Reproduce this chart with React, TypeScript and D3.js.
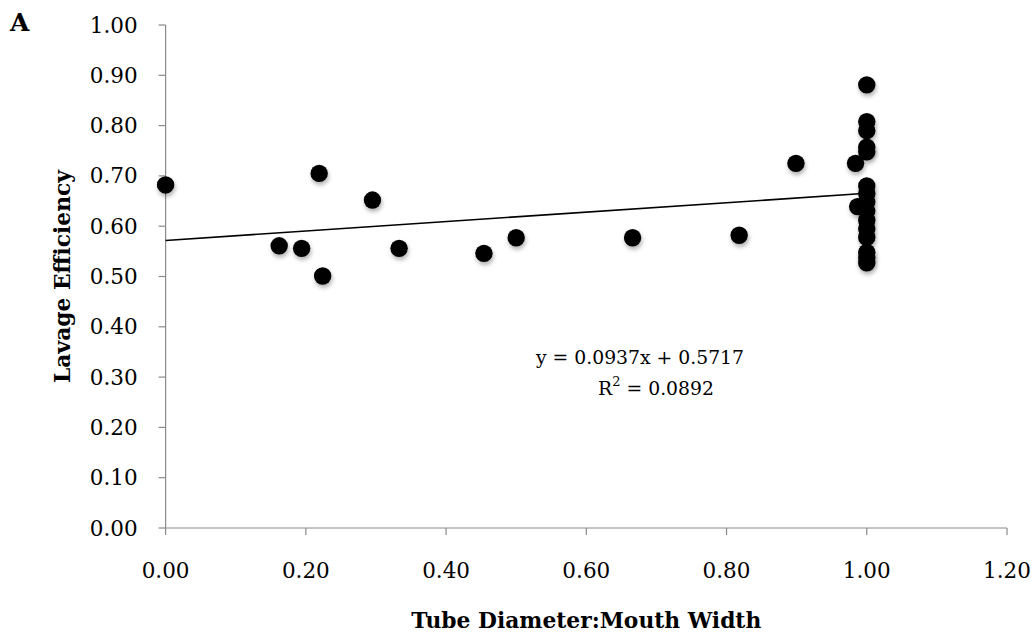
import * as d3 from "d3";

// tube diameter : mouth width ratio, one entry per animal
const ratio = [
  0, 0.162, 0.194, 0.219, 0.224, 0.295, 0.333, 0.454, 0.5, 0.666, 0.818, 0.899,
  0.984, 0.987, 1, 1, 1, 1, 1, 1, 1, 1, 1, 1, 1, 1, 1, 1, 1,
];
const efficiency = [
  0.682, 0.561, 0.556, 0.705, 0.501, 0.652, 0.556, 0.546, 0.577, 0.577, 0.582,
  0.725, 0.725, 0.639, 0.881, 0.808, 0.79, 0.757, 0.748, 0.68, 0.665, 0.648,
  0.63, 0.612, 0.595, 0.578, 0.548, 0.538, 0.527,
];

// linear trendline as printed on the chart
const slope = 0.0937;
const intercept = 0.5717;
const rSquared = "0.0892";

const xTicks = [0, 0.2, 0.4, 0.6, 0.8, 1.0, 1.2];
const yTicks = [0, 0.1, 0.2, 0.3, 0.4, 0.5, 0.6, 0.7, 0.8, 0.9, 1.0];

const WIDTH = 1034;
const HEIGHT = 638;
const MARGIN = { top: 25, right: 27, bottom: 110, left: 165.6 };
const FONT = "'DejaVu Serif', serif";
const AXIS_COLOR = "#8a8a8a";

const App = () => {
  const boundsWidth = WIDTH - MARGIN.left - MARGIN.right;
  const boundsHeight = HEIGHT - MARGIN.top - MARGIN.bottom;

  const xScale = d3.scaleLinear().domain([0, 1.2]).range([0, boundsWidth]);
  const yScale = d3.scaleLinear().domain([0, 1]).range([boundsHeight, 0]);

  const trend = d3
    .line<number>()
    .x((d) => xScale(d))
    .y((d) => yScale(slope * d + intercept));

  const points = ratio.map((r, i) => ({ x: r, y: efficiency[i] }));

  return (
    <svg
      width={WIDTH}
      height={HEIGHT}
      style={{ position: "absolute", left: 0, top: 0, display: "block" }}
      fontFamily={FONT}
    >
      <defs>
        <filter id="shadow" x="-50%" y="-50%" width="200%" height="220%">
          <feDropShadow dx="1" dy="3" stdDeviation="2.2" floodColor="#000" floodOpacity="0.3" />
        </filter>
      </defs>

      <text x={10} y={31} fontSize={25} fontWeight="bold">
        A
      </text>

      <g transform={`translate(${MARGIN.left},${MARGIN.top})`}>
        {/* y axis */}
        <line x1={0} x2={0} y1={0} y2={boundsHeight} stroke={AXIS_COLOR} strokeWidth={1.2} />
        {yTicks.map((t) => (
          <g key={t} transform={`translate(0,${yScale(t)})`}>
            <line x1={-7} x2={0} stroke={AXIS_COLOR} strokeWidth={1.2} />
            <text x={-28} textAnchor="end" dominantBaseline="central" fontSize={21.5}>
              {t.toFixed(2)}
            </text>
          </g>
        ))}

        {/* x axis */}
        <line x1={0} x2={boundsWidth} y1={boundsHeight} y2={boundsHeight} stroke={AXIS_COLOR} strokeWidth={1.2} />
        {xTicks.map((t) => (
          <g key={t} transform={`translate(${xScale(t)},${boundsHeight})`}>
            <line y1={0} y2={7} stroke={AXIS_COLOR} strokeWidth={1.2} />
            <text y={42} textAnchor="middle" dominantBaseline="central" fontSize={21.5}>
              {t.toFixed(2)}
            </text>
          </g>
        ))}

        {/* axis titles */}
        <text
          x={boundsWidth / 2}
          y={boundsHeight + 92}
          textAnchor="middle"
          dominantBaseline="central"
          fontSize={21.8}
          fontWeight="bold"
        >
          Tube Diameter:Mouth Width
        </text>
        <text
          transform={`translate(${62 - MARGIN.left},${boundsHeight / 2}) rotate(-90)`}
          textAnchor="middle"
          dominantBaseline="central"
          fontSize={21.8}
          fontWeight="bold"
        >
          Lavage Efficiency
        </text>

        {/* points */}
        {points.map((p, i) => (
          <circle
            key={i}
            cx={xScale(p.x)}
            cy={yScale(p.y)}
            r={8.7}
            fill="#000"
            filter="url(#shadow)"
          />
        ))}

        {/* trendline */}
        <path
          d={trend([0, d3.max(ratio) as number]) || ""}
          fill="none"
          stroke="#000"
          strokeWidth={1.6}
        />

        {/* equation */}
        <text
          x={640 - MARGIN.left}
          y={357 - MARGIN.top}
          textAnchor="middle"
          dominantBaseline="central"
          fontSize={18.8}
        >
          {`y = ${slope}x + ${intercept}`}
        </text>
        <text
          x={656 - MARGIN.left}
          y={388 - MARGIN.top}
          textAnchor="middle"
          dominantBaseline="central"
          fontSize={18.8}
        >
          R<tspan dy={-7} fontSize={13}>2</tspan>
          <tspan dy={7}>{` = ${rSquared}`}</tspan>
        </text>
      </g>
    </svg>
  );
};

export default App;
